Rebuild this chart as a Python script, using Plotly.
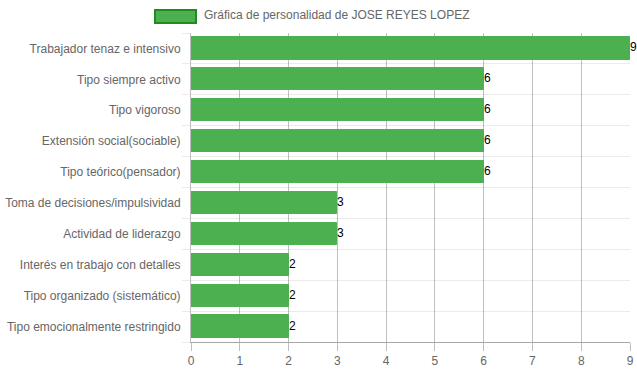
import plotly.graph_objects as go

categories = [
    "Trabajador tenaz e intensivo",
    "Tipo siempre activo",
    "Tipo vigoroso",
    "Extensión social(sociable)",
    "Tipo teórico(pensador)",
    "Toma de decisiones/impulsividad",
    "Actividad de liderazgo",
    "Interés en trabajo con detalles",
    "Tipo organizado (sistemático)",
    "Tipo emocionalmente restringido",
]
values = [9, 6, 6, 6, 6, 3, 3, 2, 2, 2]
series_name = "Gráfica de personalidad de JOSE REYES LOPEZ"
x_ticks = list(range(0, 10))

positions = list(range(len(categories)))
FONT = "Arial, Liberation Sans, sans-serif"

fig = go.Figure()
fig.add_trace(go.Bar(
    x=values,
    y=positions,
    orientation="h",
    width=0.72,
    name=series_name,
    marker=dict(color="#4CAF50", line=dict(color="#4CAF50", width=1)),
    hoverinfo="x+y",
    showlegend=False,
))

# Value labels at bar ends (positioned by the axes from the data)
for v, p in zip(values, positions):
    fig.add_annotation(
        x=v, y=p, xref="x", yref="y",
        text=str(v), showarrow=False,
        xanchor="left", yanchor="middle",
        xshift=-1, yshift=1, borderpad=0,
        font=dict(color="#000000", size=12, family=FONT),
    )

# Legend drawn as swatch + text (Chart.js style)
fig.add_shape(
    type="rect",
    xref="paper", yref="paper",
    xsizemode="pixel", ysizemode="pixel",
    xanchor=0, yanchor=1,
    x0=-36, x1=5, y0=10, y1=23,
    fillcolor="#4CAF50",
    line=dict(color="#1E8C1E", width=2),
)
fig.add_annotation(
    xref="paper", yref="paper",
    x=0, y=1,
    xshift=11, yshift=18,
    xanchor="left", yanchor="middle",
    text=series_name,
    showarrow=False,
    font=dict(size=12, color="#666666", family=FONT),
)

fig.update_layout(
    width=637,
    height=371,
    margin=dict(l=191, r=7, t=33, b=29, autoexpand=False),
    paper_bgcolor="white",
    plot_bgcolor="white",
    font=dict(family=FONT, size=12, color="#666666"),
    bargap=0,
    showlegend=False,
    xaxis=dict(
        range=[0, 9],
        tickvals=x_ticks,
        showgrid=True,
        gridcolor="rgba(0,0,0,0.25)",
        gridwidth=1,
        zeroline=False,
        showline=True,
        linecolor="rgba(0,0,0,0.35)",
        ticks="outside",
        ticklen=8,
        tickcolor="rgba(0,0,0,0.25)",
        tickfont=dict(size=12, color="#666666", family=FONT),
        fixedrange=True,
    ),
    yaxis=dict(
        range=[len(categories) - 0.5, -0.5],
        tickvals=positions,
        ticktext=categories,
        showgrid=False,
        zeroline=False,
        showline=True,
        linecolor="rgba(0,0,0,0.25)",
        ticks="",
        ticklabelstandoff=7,
        tickfont=dict(size=12, color="#666666", family=FONT),
        minor=dict(
            tickvals=[p - 0.5 for p in positions] + [len(categories) - 0.5],
            showgrid=True,
            gridcolor="rgba(0,0,0,0.08)",
            gridwidth=1,
            ticks="outside",
            ticklen=8,
            tickcolor="rgba(0,0,0,0.08)",
        ),
        fixedrange=True,
    ),
)

fig.write_html("out.html")
